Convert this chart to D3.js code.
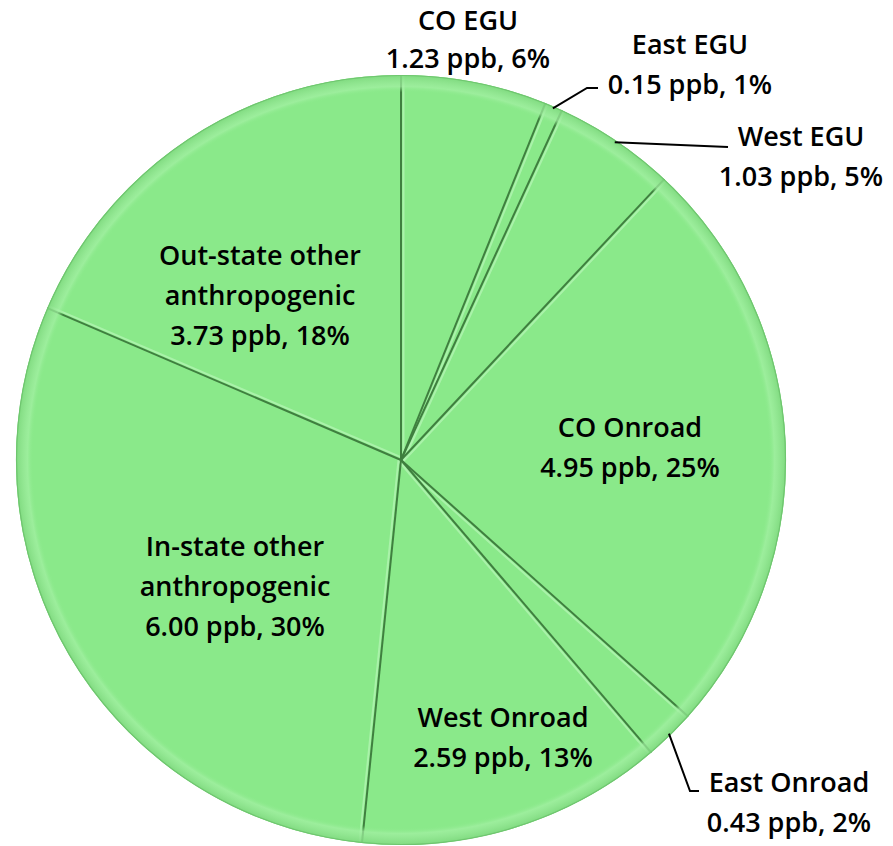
<!DOCTYPE html>
<html><head><meta charset="utf-8">
<script src="https://cdn.jsdelivr.net/npm/d3@7/dist/d3.min.js"></script>
<style>body{margin:0;background:#fff}svg{display:block}</style>
</head><body>
<script>
const categories = ["CO EGU","East EGU","West EGU","CO Onroad","East Onroad","West Onroad","In-state other anthropogenic","Out-state other anthropogenic"];
const values = [1.23,0.15,1.03,4.95,0.43,2.59,6.00,3.73];
const percents = ["6%","1%","5%","25%","2%","13%","30%","18%"];
const labelLines = [["CO EGU"],["East EGU"],["West EGU"],["CO Onroad"],["East Onroad"],["West Onroad"],["In-state other","anthropogenic"],["Out-state other","anthropogenic"]];

const W=893,H=846, cx=401, cy=460, R=385;
const svg=d3.select("body").append("svg").attr("width",W).attr("height",H);
const defs=svg.append("defs");
const rg=defs.append("radialGradient").attr("id","rim").attr("gradientUnits","userSpaceOnUse")
  .attr("cx",cx).attr("cy",cy).attr("r",R);
rg.append("stop").attr("offset","0.955").attr("stop-color","#8ae98a").attr("stop-opacity",0);
rg.append("stop").attr("offset","0.97").attr("stop-color","#a4f0a4").attr("stop-opacity",0.7);
rg.append("stop").attr("offset","1").attr("stop-color","#7fd97f").attr("stop-opacity",0.9);

const pie=d3.pie().sort(null).value(d=>d);
const arcs=pie(values);
const arc=d3.arc().innerRadius(0).outerRadius(R);
const g=svg.append("g").attr("transform",`translate(${cx},${cy})`);
g.selectAll("path.s").data(arcs).join("path").attr("class","s")
  .attr("d",arc).attr("fill","#8ae98a").attr("stroke","none");
svg.append("circle").attr("cx",cx).attr("cy",cy).attr("r",R).attr("fill","url(#rim)").attr("pointer-events","none");
g.selectAll("line.hl2").data(arcs).join("line").attr("class","hl2")
  .attr("x1",d=>2.5*Math.cos(d.startAngle)).attr("y1",d=>2.5*Math.sin(d.startAngle))
  .attr("x2",d=>R*Math.sin(d.startAngle)+2.5*Math.cos(d.startAngle)).attr("y2",d=>-R*Math.cos(d.startAngle)+2.5*Math.sin(d.startAngle))
  .attr("stroke","#b2f5b2").attr("stroke-width",2).attr("opacity",0.8);
g.selectAll("line.hl").data(arcs).join("line").attr("class","hl")
  .attr("x1",0).attr("y1",0)
  .attr("x2",d=>R*Math.sin(d.startAngle)).attr("y2",d=>-R*Math.cos(d.startAngle))
  .attr("stroke","#3f7f3f").attr("stroke-width",2);
svg.append("circle").attr("cx",cx).attr("cy",cy).attr("r",R-0.5).attr("fill","none").attr("stroke","#6fc56f").attr("stroke-width",1.2);

const labelPos=[[468,21],[690,45],[801,137],[630,428],[789,783],[503,718],[235,547],[260,256]];
const lh=40;
const font="'Open Sans', 'Noto Sans', sans-serif";
const tg=svg.append("g").attr("font-family",font).attr("font-size",27).attr("font-weight",600).attr("fill","#000").attr("text-anchor","middle");
categories.forEach((c,i)=>{
  const lines=labelLines[i].concat([d3.format(".2f")(values[i])+" ppb, "+percents[i]]);
  const t=tg.append("text");
  lines.forEach((l,j)=>t.append("tspan").attr("x",labelPos[i][0]).attr("y",labelPos[i][1]+j*(i===0?38:lh)).attr("dy","0.35em").text(l));
});

function edgePt(i,rr){const a=(arcs[i].startAngle+arcs[i].endAngle)/2;return [cx+rr*Math.sin(a),cy-rr*Math.cos(a)];}
const leaders=[
  {i:1, pts:[[587,88],[598,88]]},
  {i:2, pts:[[728,147]]},
  {i:4, pts:[[690,791],[699,791]]}
];
leaders.forEach(L=>{
  const p0=edgePt(L.i,R-2);
  svg.append("path").attr("d",d3.line()([p0].concat(L.pts))).attr("fill","none").attr("stroke","#000").attr("stroke-width",2);
});
</script>
</body></html>
